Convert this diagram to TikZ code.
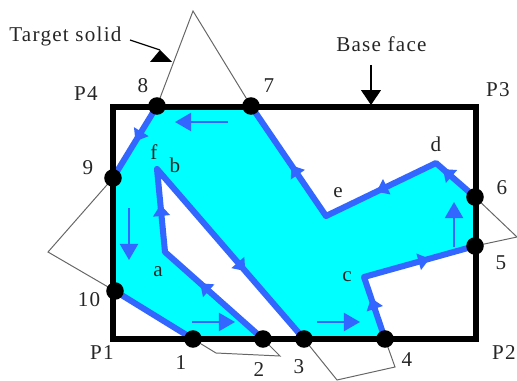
\documentclass[tikz,border=0pt]{standalone}
\usepackage{fontspec}
\setmainfont[LetterSpace=6]{Liberation Serif}
\usetikzlibrary{arrows.meta, calc}
\definecolor{faceblue}{RGB}{51,102,255}
\definecolor{facecyan}{RGB}{0,255,255}

\tikzset{
  vertex/.style={circle, fill=black, inner sep=0pt, minimum size=12.5pt},
  lbl/.style={inner sep=0pt, font=\fontsize{15pt}{17pt}\selectfont, text=black!85},
  contour/.style={line width=4.3pt, draw=faceblue, line join=round},
  flowarrow/.style={line width=1.2pt, draw=faceblue, -{Triangle[length=11.5pt,width=13pt]}},
  midarrow/.style={line width=1pt, draw=faceblue, -{Triangle[length=8pt,width=12pt]}},
  solidline/.style={line width=0.7pt, draw=black!60},
  callout/.style={line width=0.8pt, -{Triangle[length=10.5pt,width=14pt]}}
}

\begin{document}
\begin{tikzpicture}[x=0.025cm, y=-0.025cm]
  \useasboundingbox (0,0) rectangle (517,380);
  % Corners and inner points
  \coordinate (P1) at (113,339);
  \coordinate (P3) at (476,107);
  \coordinate (a) at (165,252);
  \coordinate (f) at (157,169);
  \coordinate (c) at (364,277);
  \coordinate (e) at (326,216);
  \coordinate (d) at (436,163);
  % Face
  \coordinate (v1) at (193,339);
  \coordinate (v2) at (263,339);
  \coordinate (v3) at (304,339);
  \coordinate (v4) at (385,339);
  \coordinate (v5) at (475,246);
  \coordinate (v6) at (475,197);
  \coordinate (v7) at (251,106);
  \coordinate (v8) at (157,106);
  \coordinate (v9) at (113,178);
  \coordinate (v10) at (115,291);
  \fill[facecyan] (v1) -- (v2) -- (a) -- (f) -- (v3) -- (v4) -- (c) -- (v5)
    -- (v6) -- (d) -- (e) -- (v7) -- (v8) -- (v9) -- (v10) -- cycle;
  % Target solid
  \coordinate (s8) at (193,11);
  \coordinate (s9) at (48,252);
  \coordinate (s1) at (216,353);
  \coordinate (s2) at (280,356);
  \coordinate (s3) at (337,380);
  \coordinate (s4) at (395,367);
  \coordinate (s6) at (517,237);
  \draw[solidline] (v8) -- (s8) -- (v7);
  \draw[solidline] (v9) -- (s9) -- (v10);
  \draw[solidline] (v1) -- (s1) -- (s2) -- (v2);
  \draw[solidline] (v3) -- (s3) -- (s4) -- (v4);
  \draw[solidline] (v6) -- (s6) -- (v5);
  % Contour
  \draw[contour] (v10) -- (v1);
  \draw[contour] (v2) -- (a) -- (f) -- (v3);
  \draw[contour] (v4) -- (c) -- (v5);
  \draw[contour] (v6) -- (d) -- (e) -- (v7);
  \draw[contour] (v8) -- (v9);
  % Arrows on the contour
  \foreach \from/\to/\t in {v8/v9/0.49, a/f/0.57, v2/a/0.64, f/v3/0.60, v4/c/0.66,
                            c/v5/0.59, e/v7/0.46, d/e/0.54, v6/d/0.82}{
    \draw[midarrow] ($(\from)!\t-0.3!(\to)$) -- ($(\from)!\t!(\to)$);
  }
  % Base face
  \draw[line width=3.7pt] (P1) rectangle (P3);
  \foreach \v in {1,...,10}{
    \node[vertex] (n\v) at (v\v) {};
  }
  % Flow arrows
  \foreach \xa/\ya/\xb/\yb in {228/122/175/122, 129/208/129/260, 192/322/235/322,
                               317/322/360/322, 454/247/454/202}{
    \draw[flowarrow] (\xa,\ya) -- (\xb,\yb);
  }
  % Callouts
  \node[lbl, anchor=west] (target) at (9,36) {Target solid};
  \node[lbl, anchor=west] (base) at (336,44) {Base face};
  \coordinate (targettip) at (160,50);
  \coordinate (basefrom) at (371,65);
  \draw[line width=0.8pt] (130,40) -- (targettip);
  \fill (targettip) -- (172,62) -- (150,62) -- cycle;
  \draw[callout] (basefrom) -- (371,105);
  % Labels
  \foreach \txt/\x/\y in {P1/102/353, P2/504/353, P3/498/90, P4/86/94,
                          1/181/363, 2/259/370, 3/299/367, 4/407/360,
                          5/501/263, 6/502/188, 7/269/86, 8/143/86,
                          9/88/168, 10/89/300,
                          a/158/272, b/175/165, c/347/277, d/436/144, e/338/193, f/154/152}{
    \node[lbl] (l\txt) at (\x,\y) {\txt};
  }
\end{tikzpicture}
\end{document}
